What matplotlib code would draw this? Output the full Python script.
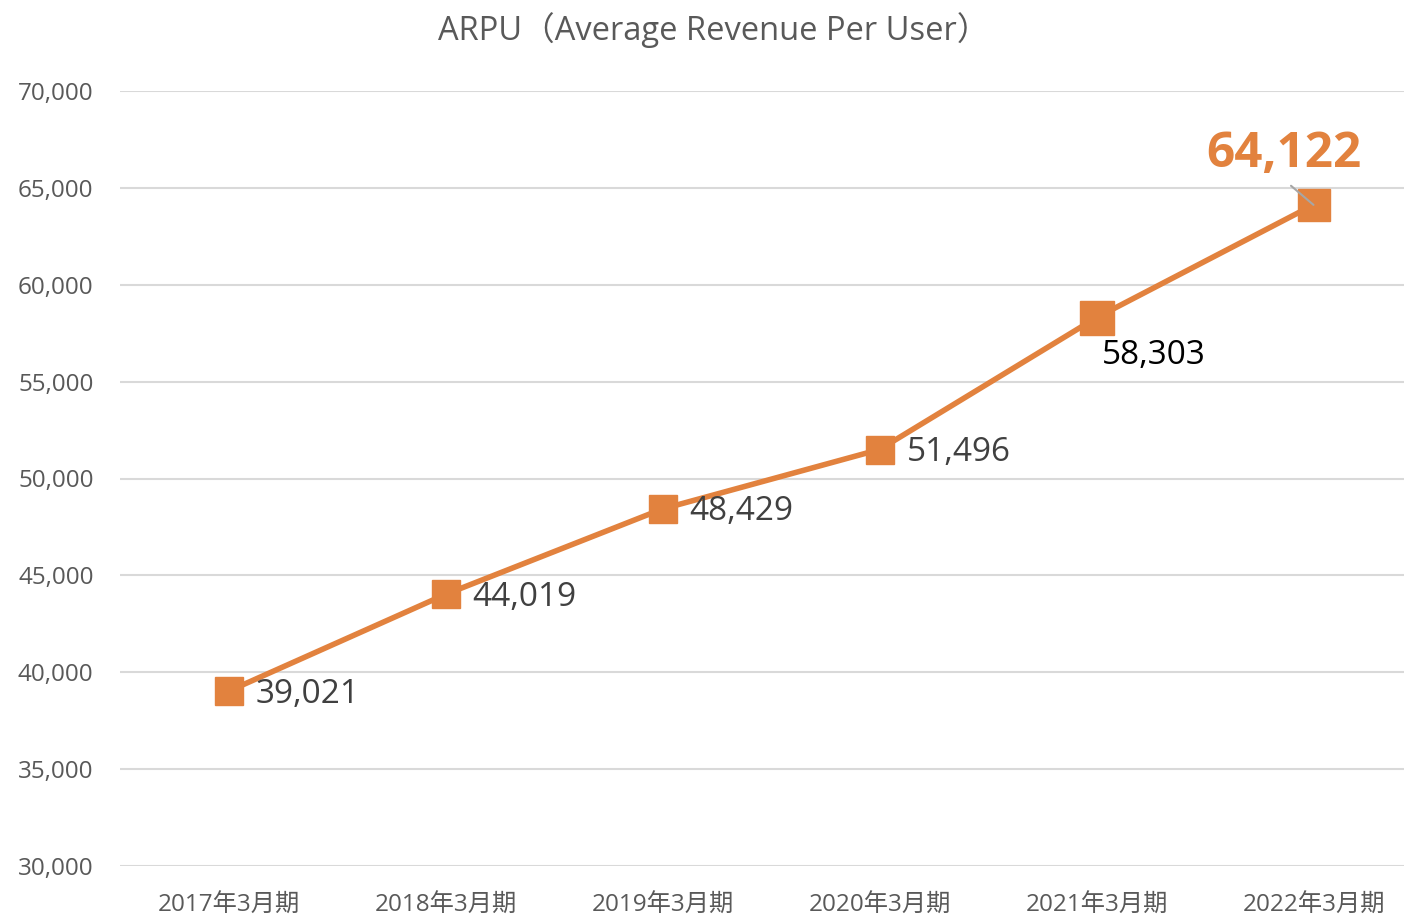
import matplotlib.pyplot as plt

plt.rcParams['font.family'] = ['Open Sans', 'Noto Sans CJK JP', 'DejaVu Sans']

periods = ['2017年3月期', '2018年3月期', '2019年3月期', '2020年3月期', '2021年3月期', '2022年3月期']
arpu = [39021, 44019, 48429, 51496, 58303, 64122]
yticks = [30000, 35000, 40000, 45000, 50000, 55000, 60000, 65000, 70000]

orange = '#E2823E'
gray = '#595959'

fig = plt.figure(figsize=(14.04, 9.16), dpi=100)
ax = fig.add_axes([120 / 1404, 50 / 916, 1302 / 1404, 775 / 916])

x = list(range(len(periods)))
ax.plot(x, arpu, color=orange, lw=4, zorder=3)
sizes = [20, 20, 20, 20, 24, 23]
for i, v in enumerate(arpu):
    ax.plot(i, v, marker='s', ms=sizes[i], color=orange, mec=orange, zorder=4)

ax.set_xlim(-0.5, 5.5)
ax.set_ylim(30000, 70000)
ax.set_yticks(yticks)
ax.set_yticklabels([f'{t:,}' for t in yticks], fontsize=17.5, color=gray)
ax.set_xticks(x)
ax.set_xticklabels(periods, fontsize=17.5, color=gray)
ax.tick_params(length=0)
ax.tick_params(axis='y', pad=19)
ax.tick_params(axis='x', pad=20)
ax.grid(axis='y', color='#D9D9D9', lw=1.5)
ax.set_axisbelow(True)
for s in ax.spines.values():
    s.set_visible(False)

# data labels
for i in range(4):
    ax.annotate(f'{arpu[i]:,}', (i, arpu[i]), xytext=(27, -3), textcoords='offset pixels',
                ha='left', va='center', fontsize=24, color='#404040')
ax.annotate(f'{arpu[4]:,}', (4, arpu[4]), xytext=(57, -38), textcoords='offset pixels',
            ha='center', va='center', fontsize=24, color='black')
ax.annotate(f'{arpu[5]:,}', (5, arpu[5]), xytext=(-30, 50), textcoords='offset pixels',
            ha='center', va='center', fontsize=35.5, fontweight='bold', color=orange, zorder=5,
            arrowprops=dict(arrowstyle='-', color='#A6A6A6', lw=1.5, shrinkA=4, shrinkB=0,
                            relpos=(0.5, 0.0)))

fig.text(714 / 1404, 1 - 30 / 916, 'ARPU（Average Revenue Per User）', ha='center', va='center',
         fontsize=23.5, color=gray)

fig.savefig('out.png', dpi=100)
